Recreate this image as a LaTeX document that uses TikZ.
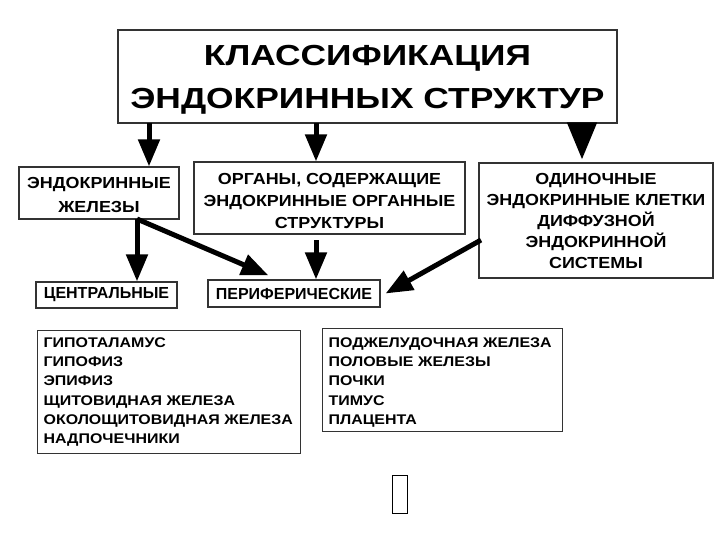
\documentclass[tikz,border=0pt]{standalone}
\usepackage{fontspec}
\setmainfont{Liberation Sans}
\newfontfamily\titlefont[FakeStretch=1.22]{Liberation Sans}
\newfontfamily\boxfont[FakeStretch=1.12]{Liberation Sans}
\newfontfamily\listfont[FakeStretch=1.14]{Liberation Sans}
\usetikzlibrary{arrows.meta, positioning, calc}

\newcommand{\lift}[1]{\rule{0pt}{#1}}

\begin{document}
\begin{tikzpicture}[x=1pt,y=-1pt]

\tikzstyle{box}  = [draw=black!80, line width=1.2pt, inner sep=0pt,
  align=center, font=\boxfont\bfseries\fontsize{16}{22}\selectfont]
\tikzstyle{smallbox}  = [box, font=\bfseries\fontsize{16}{22}\selectfont]
\tikzstyle{listbox}  = [draw=black!80, line width=1.2pt, inner sep=0pt,
  align=left, anchor=north west, font=\listfont\bfseries\fontsize{14}{19.3}\selectfont]
\tikzstyle{link}  = [-{Triangle[length=27pt,width=21pt]}, line width=5pt]

\useasboundingbox (0,0) rectangle (720,540);

% title
\node (title) [box, minimum width=499pt, minimum height=93pt,
  font=\titlefont\bfseries\fontsize{29}{43}\selectfont] at (367.5,76.5)
  {\lift{27pt}КЛАССИФИКАЦИЯ\\ЭНДОКРИННЫХ СТРУКТУР};

% second row
\node (glands) [box, minimum width=160pt, minimum height=52pt,
  font=\boxfont\bfseries\fontsize{16}{24}\selectfont] at (99,193)
  {\lift{15.5pt}ЭНДОКРИННЫЕ\\ЖЕЛЕЗЫ};
\node (organs) [box, minimum width=271pt, minimum height=72pt] at (329.5,198)
  {\lift{17pt}ОРГАНЫ, СОДЕРЖАЩИЕ\\ЭНДОКРИННЫЕ ОРГАННЫЕ\\СТРУКТУРЫ};
\node (cells) [box, minimum width=234pt, minimum height=115pt,
  font=\boxfont\bfseries\fontsize{16}{21}\selectfont] at (596,220.5)
  {ОДИНОЧНЫЕ\\ЭНДОКРИННЫЕ КЛЕТКИ\\ДИФФУЗНОЙ\\ЭНДОКРИННОЙ\\СИСТЕМЫ};

% third row
\node (central) [smallbox, minimum width=141pt, minimum height=26pt] at (106.5,295)
  {ЦЕНТРАЛЬНЫЕ};
\node (periph) [smallbox, minimum width=172pt, minimum height=27pt] at (294,293.5)
  {ПЕРИФЕРИЧЕСКИЕ};

% lists
\node (clist) [listbox, minimum width=263pt, minimum height=123pt,
  text width=251pt, inner xsep=6pt] at (37,330)
  {ГИПОТАЛАМУС\\ГИПОФИЗ\\ЭПИФИЗ\\ЩИТОВИДНАЯ ЖЕЛЕЗА\\ОКОЛОЩИТОВИДНАЯ ЖЕЛЕЗА\\НАДПОЧЕЧНИКИ};
\node (plist) [listbox, minimum width=240pt, minimum height=103pt,
  text width=228pt, inner xsep=6pt] at (322,328)
  {\lift{14pt}ПОДЖЕЛУДОЧНАЯ ЖЕЛЕЗА\\ПОЛОВЫЕ ЖЕЛЕЗЫ\\ПОЧКИ\\ТИМУС\\ПЛАЦЕНТА};

% arrows
\coordinate (t1) at (149,123);
\coordinate (t2) at (316,123);
\coordinate (t3) at (582,123);
\coordinate (g1) at (137,219);
\coordinate (o1) at (316,240);
\coordinate (c1) at (481,240);

\draw[link] (t1) -- (t1 |- glands.north);
\draw[link] (t2) -- (t2 |- organs.north);
\draw[-{Triangle[length=37pt,width=29pt]}, line width=5pt] (t3) -- ($(t3 |- cells.north)+(0,-3)$);

\draw[link] (g1) -- (g1 |- central.north);
\draw[link] (g1) -- ($(periph.north west)+(61,-4)$);
\draw[link] (o1) -- (o1 |- periph.north);
\draw[link] (c1) -- ($(periph.east)+(5,0)$);

% empty glyph box
\draw[line width=1pt] (392,475) rectangle (407,513);

\end{tikzpicture}
\end{document}
